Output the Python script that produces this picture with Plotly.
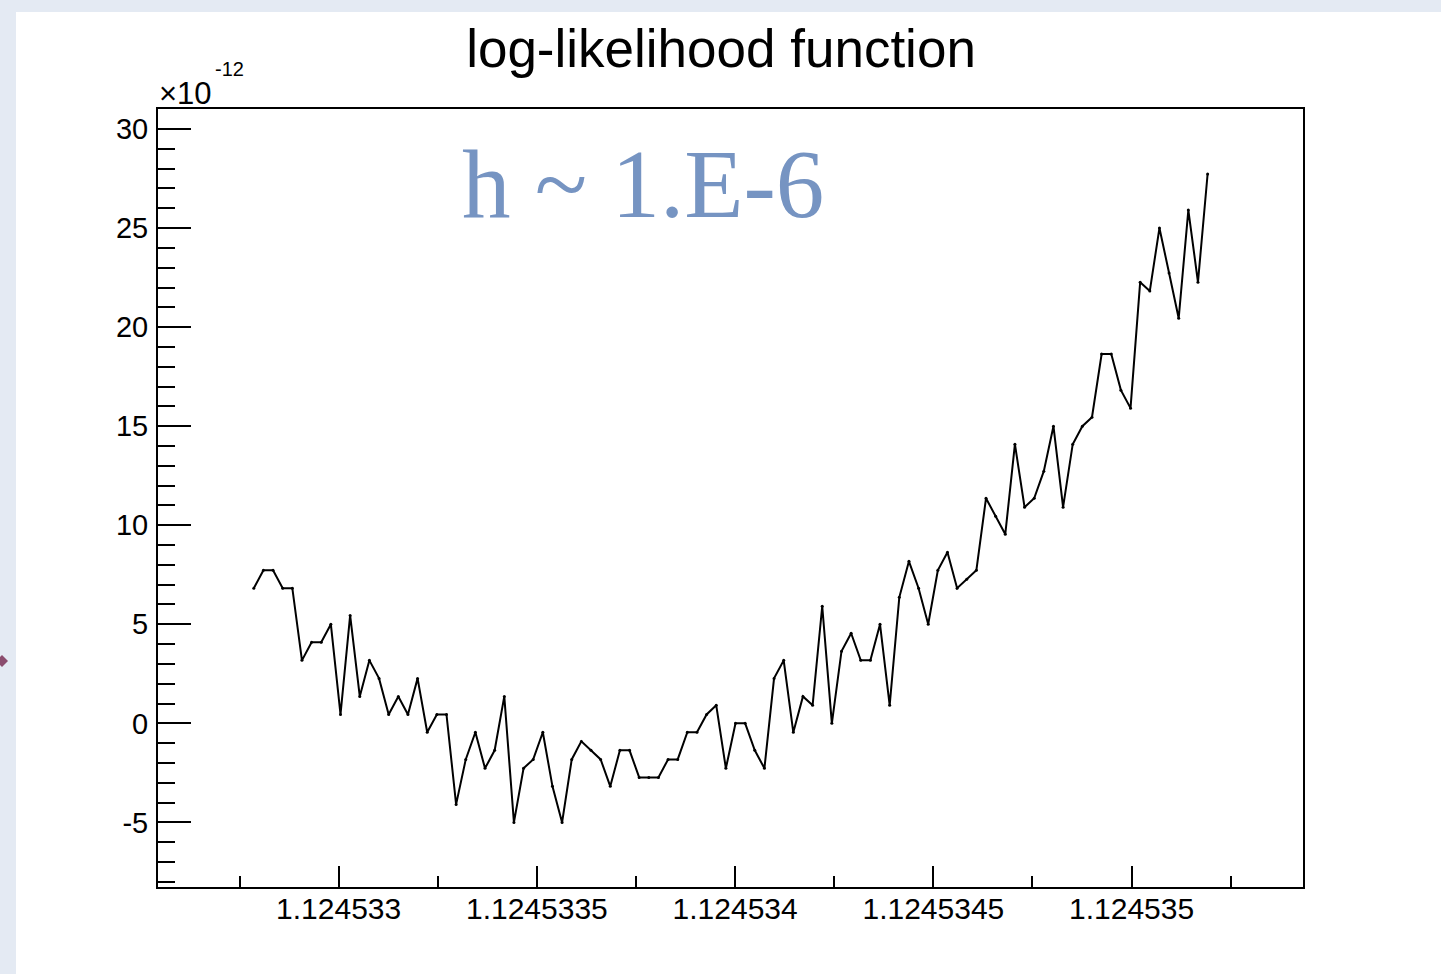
import plotly.graph_objects as go

# x positions: offsets from 1.12453 in units of 1e-10
x_offsets_1e10 = [
    27860, 28103, 28346, 28589, 28832, 29075, 29318, 29561, 29804, 30047,
    30290, 30533, 30776, 31019, 31262, 31505, 31748, 31991, 32234, 32477,
    32720, 32963, 33206, 33449, 33692, 33935, 34178, 34421, 34664, 34907,
    35150, 35393, 35636, 35879, 36122, 36365, 36608, 36851, 37094, 37337,
    37580, 37823, 38066, 38309, 38552, 38795, 39038, 39281, 39524, 39767,
    40010, 40253, 40496, 40739, 40982, 41225, 41468, 41711, 41954, 42197,
    42440, 42683, 42926, 43169, 43412, 43655, 43898, 44141, 44384, 44627,
    44870, 45113, 45356, 45599, 45842, 46085, 46328, 46571, 46814, 47057,
    47300, 47543, 47786, 48029, 48272, 48515, 48758, 49001, 49244, 49487,
    49730, 49973, 50216, 50459, 50702, 50945, 51188, 51431, 51674, 51917,
]

# log-likelihood values in units of 1e-12
y_values_e12 = [
    6.82, 7.73, 7.73, 6.82, 6.82, 3.18, 4.09, 4.09, 5.00, 0.45,
    5.45, 1.36, 3.18, 2.27, 0.45, 1.36, 0.45, 2.27, -0.45, 0.45,
    0.45, -4.09, -1.82, -0.45, -2.27, -1.36, 1.36, -5.00, -2.27, -1.82,
    -0.45, -3.18, -5.00, -1.82, -0.91, -1.36, -1.82, -3.18, -1.36, -1.36,
    -2.73, -2.73, -2.73, -1.82, -1.82, -0.45, -0.45, 0.45, 0.91, -2.27,
    0.00, 0.00, -1.36, -2.27, 2.27, 3.18, -0.45, 1.36, 0.91, 5.91,
    0.00, 3.64, 4.55, 3.18, 3.18, 5.00, 0.91, 6.36, 8.18, 6.82,
    5.00, 7.73, 8.64, 6.82, 7.27, 7.73, 11.36, 10.45, 9.55, 14.09,
    10.91, 11.36, 12.73, 15.00, 10.91, 14.09, 15.00, 15.45, 18.64, 18.64,
    16.82, 15.91, 22.27, 21.82, 25.00, 22.73, 20.45, 25.91, 22.27, 27.73,
]

x_tick_vals = [1.124533, 1.1245335, 1.124534, 1.1245345, 1.124535]
x_tick_text = ["1.124533", "1.1245335", "1.124534", "1.1245345", "1.124535"]
y_tick_vals = [-5, 0, 5, 10, 15, 20, 25, 30]
y_tick_text = ["-5", "0", "5", "10", "15", "20", "25", "30"]

x_values = [1.12453 + v * 1e-10 for v in x_offsets_1e10]

W, H = 1441, 974
L, R, T, B = 158, 138, 109, 87
PW, PH = W - L - R, H - T - B


def px_x(px):
    return (px - L) / PW


def px_y(py):
    return (H - B - py) / PH


fig = go.Figure()
fig.add_trace(go.Scatter(
    x=x_values, y=y_values_e12, mode="lines+markers",
    line=dict(color="black", width=2),
    marker=dict(color="black", size=3),
    showlegend=False, hoverinfo="skip",
))

font_sans = "Liberation Sans, Arial, Helvetica, sans-serif"

fig.update_layout(
    width=W, height=H,
    margin=dict(l=L, r=R, t=T, b=B),
    paper_bgcolor="#e4eaf3",
    plot_bgcolor="white",
    showlegend=False,
    title=dict(text="log-likelihood function", x=(721 / W), xref="container",
               y=(H - 48) / H, yref="container", xanchor="center", yanchor="middle",
               font=dict(family=font_sans, size=53, color="black")),
    font=dict(family=font_sans, color="black"),
    shapes=[
        dict(type="rect", xref="paper", yref="paper",
             x0=px_x(16), x1=px_x(1445), y0=px_y(980), y1=px_y(12),
             fillcolor="white", line=dict(width=0), layer="below"),
        dict(type="path", xref="paper", yref="paper",
             path="M {} {} L {} {} L {} {} L {} {} Z".format(
                 px_x(-4), px_y(661), px_x(2), px_y(655), px_x(8), px_y(661), px_x(2), px_y(667)),
             fillcolor="#8b4d6e", line=dict(width=0), layer="above"),
    ],
    annotations=[
        dict(text="h ~ 1.E-6", xref="paper", yref="paper", x=px_x(643), y=px_y(185),
             xanchor="center", yanchor="middle", showarrow=False,
             font=dict(family="Liberation Serif, Times New Roman, serif", size=97, color="#7694c2")),
        dict(text="×10", xref="paper", yref="paper", x=px_x(157), y=px_y(94),
             xanchor="left", yanchor="middle", showarrow=False,
             font=dict(family=font_sans, size=31, color="black")),
        dict(text="-12", xref="paper", yref="paper", x=px_x(213), y=px_y(69),
             xanchor="left", yanchor="middle", showarrow=False,
             font=dict(family=font_sans, size=20, color="black")),
    ],
)

fig.update_xaxes(
    range=[1.1245325444, 1.1245354323],
    tickmode="array", tickvals=x_tick_vals, ticktext=x_tick_text,
    ticks="inside", ticklen=21, tickwidth=2, tickcolor="black",
    minor=dict(dtick=0.25e-6, tick0=1.124533, ticks="inside", ticklen=11, tickwidth=2, tickcolor="black"),
    showline=True, linecolor="black", linewidth=2, mirror=True,
    showgrid=False, zeroline=False,
    tickfont=dict(family=font_sans, size=30, color="black"),
    ticklabelstandoff=-6,
)
fig.update_yaxes(
    range=[-8.26, 31.01],
    tickmode="array", tickvals=y_tick_vals, ticktext=y_tick_text,
    ticks="inside", ticklen=33, tickwidth=2, tickcolor="black",
    minor=dict(dtick=1, tick0=0, ticks="inside", ticklen=17, tickwidth=2, tickcolor="black"),
    showline=True, linecolor="black", linewidth=2, mirror=True,
    showgrid=False, zeroline=False,
    tickfont=dict(family=font_sans, size=29, color="black"),
    ticklabelstandoff=2,
)

fig.write_html("out.html", config={"displayModeBar": False},
               post_script="document.body.style.margin='0';document.body.style.background='white';")
